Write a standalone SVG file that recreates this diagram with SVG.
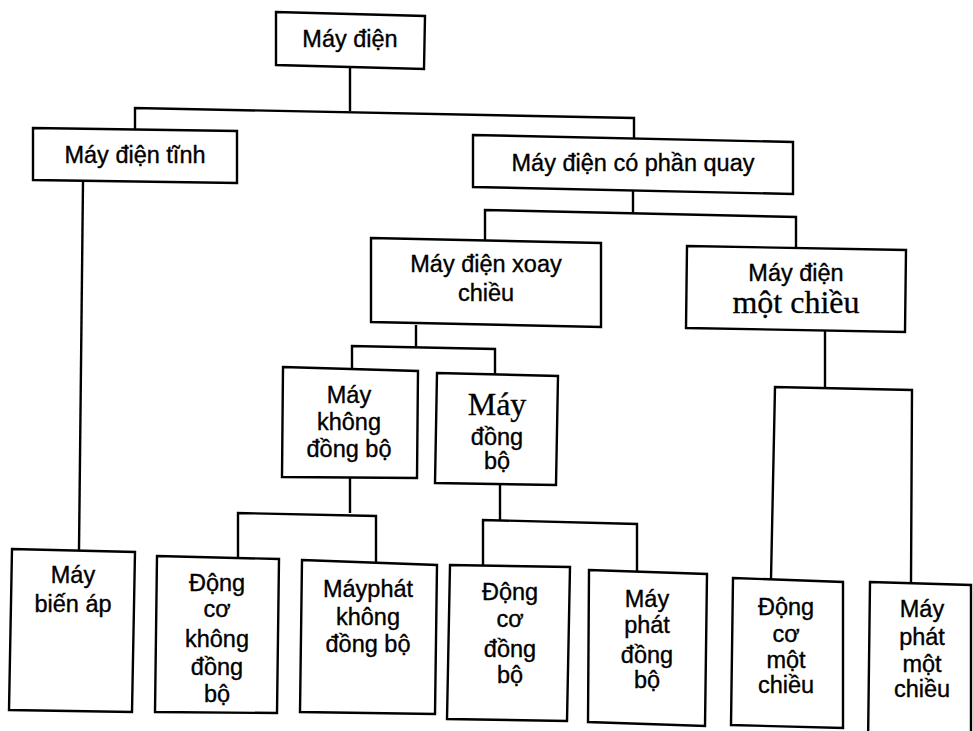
<svg xmlns="http://www.w3.org/2000/svg" width="973" height="731" viewBox="0 0 973 731">
<style>
.box{fill:#fff;stroke:#000;stroke-width:2.4;stroke-linejoin:miter}
.ln{fill:none;stroke:#000;stroke-width:2.4}
.t{font-family:"Liberation Sans",Arial,sans-serif;font-size:23.5px;fill:#000;stroke:#000;stroke-width:0.35;text-anchor:middle}
.s{font-family:"Liberation Serif","Times New Roman",serif;font-size:32px;fill:#000;stroke:#000;stroke-width:0.3;text-anchor:middle}
</style>
<rect width="973" height="731" fill="#fff"/>
<g id="connectors">
<path class="ln" d="M350,67 L350,111"/>
<path class="ln" d="M135,129 L135,108 L634,118 L634,138"/>
<path class="ln" d="M83,182 L79,550"/>
<path class="ln" d="M633,191 L633,213"/>
<path class="ln" d="M485,240 L485,210 L796,217 L796,248"/>
<path class="ln" d="M416,325 L416,347"/>
<path class="ln" d="M352,369 L352,346 L495,349 L495,374"/>
<path class="ln" d="M350,477 L350,513"/>
<path class="ln" d="M238,557 L238,513 L376,516 L376,562"/>
<path class="ln" d="M500,484 L500,520"/>
<path class="ln" d="M483,566 L483,520 L637,524 L637,571"/>
<path class="ln" d="M825,330 L825,387"/>
<path class="ln" d="M771,579 L775,387 L912,390 L911,583"/>
</g>
<g id="n_may_dien">
<polygon class="box" points="276,12 425,16 424,69 276,65"/>
<text class="t" x="350" y="47">Máy điện</text>
</g>
<g id="n_tinh">
<polygon class="box" points="33,128 237,131 237,183 33,180"/>
<text class="t" x="135" y="163">Máy điện tĩnh</text>
</g>
<g id="n_quay">
<polygon class="box" points="473,135 793,142 793,194 473,187"/>
<text class="t" x="633" y="171">Máy điện có phần quay</text>
</g>
<g id="n_xoay">
<polygon class="box" points="371,238 601,243 601,327 371,322"/>
<text class="t" x="486" y="272">Máy điện xoay</text>
<text class="t" x="486" y="301">chiều</text>
</g>
<g id="n_motchieu">
<polygon class="box" points="687,246 906,250 905,332 686,328"/>
<text class="t" x="796" y="281">Máy điện</text>
<text class="s" x="796" y="313">một chiều</text>
</g>
<g id="n_khongdongbo">
<polygon class="box" points="283,367 418,371 417,478 282,477"/>
<text class="t" x="349" y="403">Máy</text>
<text class="t" x="349" y="430">không</text>
<text class="t" x="349" y="457">đồng bộ</text>
</g>
<g id="n_dongbo">
<polygon class="box" points="437,373 558,376 556,485 435,483"/>
<text class="s" x="497" y="415">Máy</text>
<text class="t" x="497" y="445">đồng</text>
<text class="t" x="497" y="469">bộ</text>
</g>
<g id="n_bienap">
<polygon class="box" points="12,549 135,552 132,712 9,710"/>
<text class="t" x="73" y="583">Máy</text>
<text class="t" x="73" y="612">biến áp</text>
</g>
<g id="n_dc_kdb">
<polygon class="box" points="157,556 279,559 277,713 155,712"/>
<text class="t" x="217" y="591">Động</text>
<text class="t" x="217" y="617">cơ</text>
<text class="t" x="217" y="647">không</text>
<text class="t" x="217" y="675">đồng</text>
<text class="t" x="217" y="702">bộ</text>
</g>
<g id="n_mp_kdb">
<polygon class="box" points="302,560 437,565 435,714 300,712"/>
<text class="t" x="368" y="597">Máyphát</text>
<text class="t" x="368" y="625">không</text>
<text class="t" x="368" y="652">đồng bộ</text>
</g>
<g id="n_dc_db">
<polygon class="box" points="450,565 570,567 567,721 447,719"/>
<text class="t" x="510" y="600">Động</text>
<text class="t" x="510" y="627">cơ</text>
<text class="t" x="510" y="657">đồng</text>
<text class="t" x="510" y="683">bộ</text>
</g>
<g id="n_mp_db">
<polygon class="box" points="589,570 707,574 705,726 588,722"/>
<text class="t" x="647" y="607">Máy</text>
<text class="t" x="647" y="633">phát</text>
<text class="t" x="647" y="663">đồng</text>
<text class="t" x="647" y="688">bộ</text>
</g>
<g id="n_dc_mc">
<polygon class="box" points="733,578 843,582 843,728 731,725"/>
<text class="t" x="786" y="615">Động</text>
<text class="t" x="786" y="642">cơ</text>
<text class="t" x="786" y="668">một</text>
<text class="t" x="786" y="693">chiều</text>
</g>
<g id="n_mp_mc">
<polygon class="box" points="870,582 971,585 971,745 868,745"/>
<text class="t" x="922" y="617">Máy</text>
<text class="t" x="922" y="645">phát</text>
<text class="t" x="922" y="672">một</text>
<text class="t" x="922" y="697">chiều</text>
</g>
</svg>
